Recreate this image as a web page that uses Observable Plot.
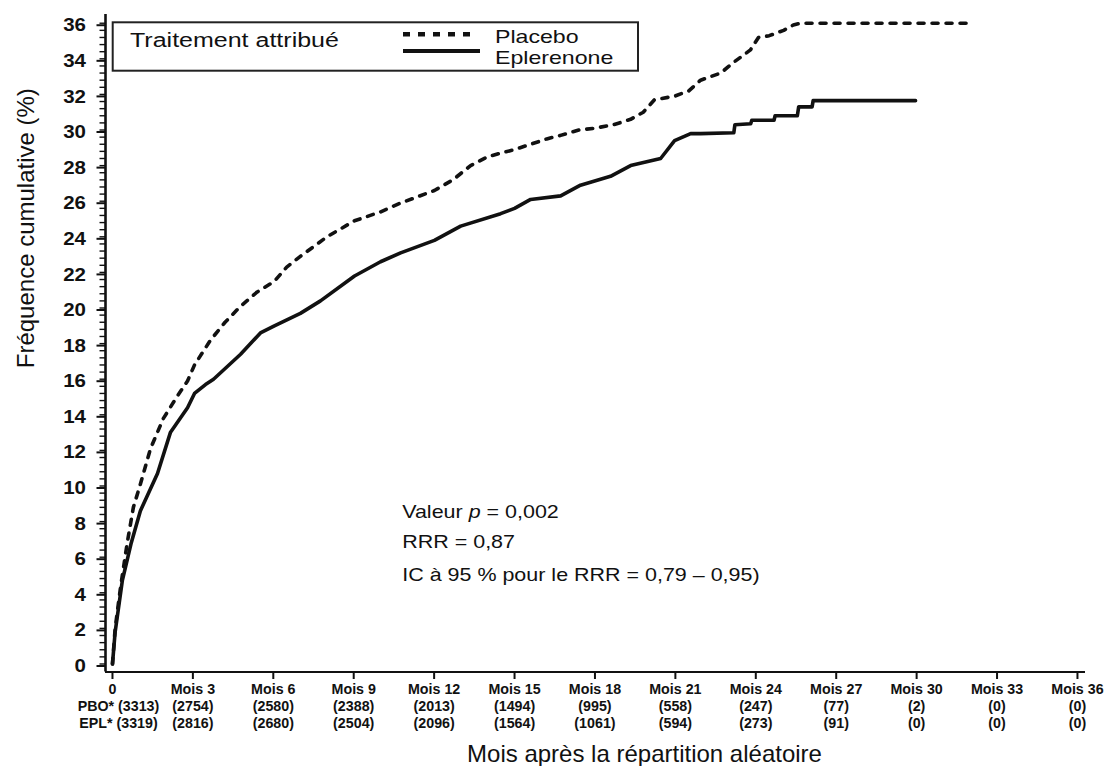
<!DOCTYPE html>
<html>
<head>
<meta charset="utf-8">
<script src="https://cdn.jsdelivr.net/npm/d3@7"></script>
<script src="https://cdn.jsdelivr.net/npm/@observablehq/plot@0.6"></script>
<style>
  body { margin: 0; background: #fff; }
  #chart { width: 1105px; height: 766px; position: relative; }
</style>
</head>
<body>
<div id="chart"></div>
<script>
// ---- Data ----
const placeboMonths = [0, 0.1, 0.3, 0.55, 0.78, 1.04, 1.42, 1.9, 2.4, 2.8, 3.06, 3.66, 4.2, 4.78, 5.4, 6.04, 6.5, 7.01, 8.0, 9.03, 10.0, 10.75, 12.01, 12.7, 13.36, 14.0, 14.48, 15.0, 15.6, 16.2, 16.72, 17.4, 17.99, 18.7, 19.33, 19.8, 20.22, 20.97, 21.5, 21.94, 22.69, 23.17, 23.8, 24.1, 24.5, 25.04, 25.4, 25.67, 32.13];
const placeboPct = [0, 2.0, 4.3, 6.8, 8.8, 10.1, 12.1, 13.8, 15.0, 15.9, 16.8, 18.2, 19.2, 20.1, 20.9, 21.5, 22.3, 22.9, 24.0, 24.9, 25.4, 25.9, 26.6, 27.2, 28.0, 28.5, 28.7, 28.9, 29.2, 29.5, 29.7, 30.0, 30.1, 30.3, 30.6, 31.0, 31.7, 31.9, 32.2, 32.8, 33.2, 33.8, 34.5, 35.2, 35.3, 35.6, 35.9, 36.0, 36.0];

const eplMonths = [0, 0.1, 0.37, 0.7, 1.04, 1.68, 2.16, 2.8, 3.06, 3.47, 3.77, 4.78, 5.52, 6.04, 7.01, 7.76, 9.03, 10.0, 10.75, 12.01, 12.99, 14.48, 15.0, 15.6, 16.72, 17.46, 18.58, 19.33, 20.45, 20.97, 21.57, 21.94, 23.18, 23.22, 23.81, 23.85, 24.68, 24.72, 25.55, 25.6, 26.1, 26.14, 29.96];
const eplPct = [0, 1.8, 4.7, 6.8, 8.6, 10.7, 13.0, 14.4, 15.2, 15.7, 16.0, 17.4, 18.6, 19.0, 19.7, 20.4, 21.8, 22.6, 23.1, 23.8, 24.6, 25.3, 25.6, 26.1, 26.3, 26.9, 27.4, 28.0, 28.4, 29.4, 29.8, 29.8, 29.85, 30.3, 30.35, 30.55, 30.55, 30.8, 30.8, 31.3, 31.3, 31.65, 31.65];

const seriesNames = ["Placebo", "Eplerenone"];
const xTickMonths = [0, 3, 6, 9, 12, 15, 18, 21, 24, 27, 30, 33, 36];
const xTickLabels = ["0", "Mois 3", "Mois 6", "Mois 9", "Mois 12", "Mois 15", "Mois 18", "Mois 21", "Mois 24", "Mois 27", "Mois 30", "Mois 33", "Mois 36"];
const pboAtRisk = [3313, 2754, 2580, 2388, 2013, 1494, 995, 558, 247, 77, 2, 0, 0];
const eplAtRisk = [3319, 2816, 2680, 2504, 2096, 1564, 1061, 594, 273, 91, 0, 0, 0];
const yTicks = [0, 2, 4, 6, 8, 10, 12, 14, 16, 18, 20, 22, 24, 26, 28, 30, 32, 34, 36];
const annotLines = ["Valeur p = 0,002", "RRR = 0,87", "IC à 95 % pour le RRR = 0,79 – 0,95)"];
const legendTitle = "Traitement attribué";
const yTitle = "Fréquence cumulative (%)";
const xTitle = "Mois après la répartition aléatoire";

// ---- Tables built from the arrays ----
const placebo = placeboMonths.map((m, i) => ({m, p: placeboPct[i]}));
const epl = eplMonths.map((m, i) => ({m, p: eplPct[i]}));
const rows = xTickMonths.map((m, i) => ({m, tick: xTickLabels[i], pbo: pboAtRisk[i], epl: eplAtRisk[i], i}));
const yMinor = d3.range(91).map(i => +(i * 0.4).toFixed(1));

const xDomain = [-0.26, 36.3];
const yDomain = [-0.45, 36.49];
const ink = "#111";
const font = "'Liberation Sans', Arial, sans-serif";
const dotted = "6,8";
const xtl = {frameAnchor: "bottom", fontSize: 15, fontWeight: 600, fill: ink, className: "xtl"};

const chart = Plot.plot({
  width: 1105,
  height: 766,
  marginLeft: 105,
  marginRight: 20,
  marginTop: 14,
  marginBottom: 94.5,
  x: {domain: xDomain},
  y: {domain: yDomain},
  style: {fontFamily: font, color: ink, background: "white", overflow: "visible"},
  marks: [
    Plot.axisY({ticks: yMinor, tickSize: 5.5, tickFormat: () => "", label: null, strokeWidth: 1.4}),
    Plot.axisY({ticks: yTicks, tickSize: 8.5, tickPadding: 11, fontSize: 19, fontWeight: 600, tickFormat: d => String(d), label: null, strokeWidth: 2, dy: 2}),
    Plot.axisX({ticks: xTickMonths, tickSize: 7.5, tickFormat: () => "", label: null, strokeWidth: 2}),
    Plot.ruleX([xDomain[0]], {strokeWidth: 2.6, stroke: ink}),
    Plot.ruleY([yDomain[0]], {strokeWidth: 2, stroke: ink}),
    Plot.text(rows, {...xtl, x: "m", text: "tick", dy: 21.5}),
    Plot.text(rows.slice(1), {...xtl, x: "m", text: d => `(${d.pbo})`, dy: 38.7}),
    Plot.text(rows.slice(1), {...xtl, x: "m", text: d => `(${d.epl})`, dy: 55.7}),
    Plot.text(rows.slice(0, 1), {...xtl, x: "m", text: d => `PBO* (${d.pbo})`, dx: 6, dy: 38.7}),
    Plot.text(rows.slice(0, 1), {...xtl, x: "m", text: d => `EPL* (${d.epl})`, dx: 6, dy: 55.7}),
    Plot.line(placebo, {x: "m", y: "p", stroke: ink, strokeWidth: 3.6, strokeDasharray: dotted}),
    Plot.line(epl, {x: "m", y: "p", stroke: ink, strokeWidth: 3.6}),
    Plot.text([annotLines[0]], {frameAnchor: "top-left", dx: 296.7, dy: 503, lineAnchor: "bottom", textAnchor: "start", fontSize: 19, fill: ink, className: "annot"}),
    Plot.text([annotLines[1]], {frameAnchor: "top-left", dx: 296.7, dy: 533, lineAnchor: "bottom", textAnchor: "start", fontSize: 19, fill: ink, className: "annot"}),
    Plot.text([annotLines[2]], {frameAnchor: "top-left", dx: 296.7, dy: 566, lineAnchor: "bottom", textAnchor: "start", fontSize: 19, fill: ink, className: "annot"}),
    Plot.text([xTitle], {frameAnchor: "bottom", dx: 49, dy: 90.2, lineAnchor: "bottom", fontSize: 24, fill: ink}),
    Plot.text([yTitle], {frameAnchor: "left", dx: -72, dy: 25, rotate: -90, lineAnchor: "bottom", fontSize: 24, fill: ink})
  ]
});

document.getElementById("chart").appendChild(chart);

// ---- Legend drawn into the SVG ----
const svg = d3.select(chart);
const lg = svg.append("g").attr("font-family", font).attr("fill", ink).attr("text-anchor", "start");
lg.append("rect").attr("x", 112.7).attr("y", 22.3).attr("width", 525.3).attr("height", 48.4)
  .attr("fill", "white").attr("stroke", "#222").attr("stroke-width", 2);
lg.append("text").attr("class", "lgt").attr("x", 130).attr("y", 46.7).attr("font-size", 20).text(legendTitle);
lg.append("line").attr("x1", 403).attr("x2", 472).attr("y1", 34.3).attr("y2", 34.3)
  .attr("stroke", ink).attr("stroke-width", 4.5).attr("stroke-dasharray", "7,8");
lg.append("line").attr("x1", 403).attr("x2", 480).attr("y1", 51).attr("y2", 51)
  .attr("stroke", ink).attr("stroke-width", 4);
lg.append("text").attr("class", "lgt").attr("x", 495).attr("y", 43).attr("font-size", 18.5).text(seriesNames[0]);
lg.append("text").attr("class", "lgt").attr("x", 495).attr("y", 64).attr("font-size", 18.5).text(seriesNames[1]);

// italic p
svg.selectAll("text").each(function() {
  if (this.textContent === annotLines[0]) {
    this.innerHTML = 'Valeur <tspan font-style="italic">p</tspan> = 0,002';
  }
});

function stretch(sel, f) {
  sel.each(function() {
    const w = this.getComputedTextLength();
    if (w > 0) {
      this.setAttribute("textLength", (w * f).toFixed(1));
      this.setAttribute("lengthAdjust", "spacingAndGlyphs");
    }
  });
}
stretch(svg.selectAll('g[aria-label="y-axis tick label"] text'), 1.08);
stretch(svg.selectAll(".annot text"), 1.13);
stretch(svg.selectAll(".xtl text"), 0.95);
stretch(svg.selectAll("text.lgt"), 1.25);
</script>
</body>
</html>
